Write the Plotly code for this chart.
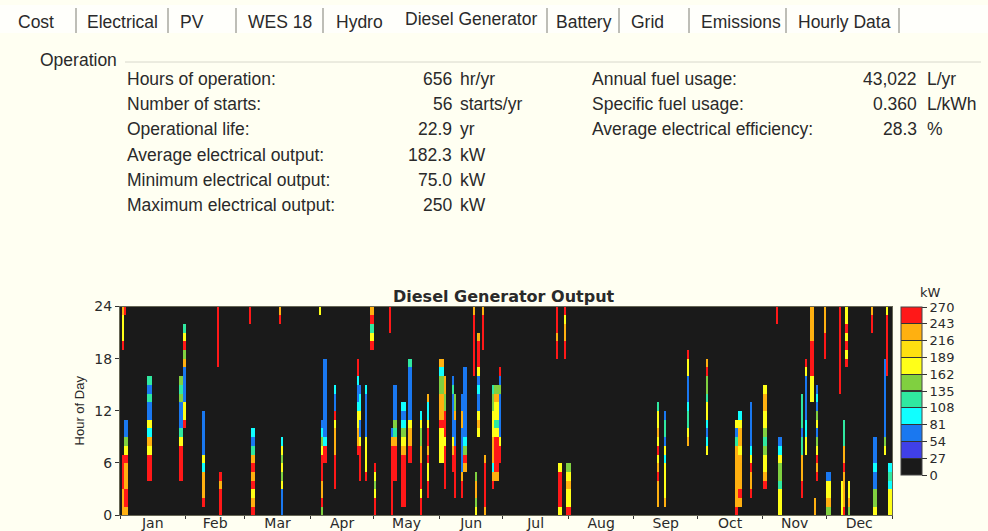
import numpy as np
import plotly.graph_objects as go

WIDTH, HEIGHT = 988, 531
BG = "#FFFFF2"
DARK = "#1A1A1A"
TEXT = "#2A2A2A"
FONT = "Liberation Sans"
AXIS_FONT = "DejaVu Sans"

# output level codes, kW
KW = {"B": 67, "C": 95, "M": 120, "G": 150, "Y": 175, "D": 200, "O": 230, "R": 250}

# runs: first day of year, number of days, first hour, output per hour
runs_jan = [
    (1, 1, 19, "RYYYO"), (2, 1, 23, "R"), (1, 1, 0, "OOORRRR"),
    (2, 2, 0, "ORROOORYGBB"), (13, 2, 4, "RRRYOCYBBMBM"),
    (28, 2, 4, "RRRRYMBBBGMG"), (30, 1, 10, "RYYBBBBOGRYM"),
]
runs_feb = [
    (39, 1, 1, "ROOOCYBBBBB"), (46, 1, 17, "RRRRRRR"), (47, 1, 0, "RRROR"),
]
runs_mar = [
    (61, 1, 22, "RR"), (62, 2, 0, "ROYROROMBC"), (75, 1, 22, "RO"),
    (76, 1, 0, "BBBYGYGYC"),
]
runs_apr = [
    (94, 1, 23, "Y"), (95, 1, 0, "GROORRRYGCB"), (96, 2, 6, "RRCBBBBBBBBB"),
    (101, 1, 3, "RRRROOOYRBBC"), (112, 1, 7, "ROOYYCBBCRR"),
    (113, 1, 4, "RRRRYBBYCCB"), (116, 1, 4, "RYYYYBBBBBC"),
    (118, 2, 19, "RYMRO"),
]
runs_may = [
    (120, 1, 0, "RRYGYR"), (127, 1, 21, "RRR"), (128, 1, 0, "RRRRRRRROB"),
    (129, 2, 4, "RRRROMGBBBB"), (133, 2, 1, "RRRRRROYGCBC"),
    (136, 2, 6, "RROOYBBBBBBM"), (142, 1, 0, "RRYRRROOGGYC"),
    (145, 1, 2, "RRYYRORRYCCO"),
]
runs_jun = [
    (151, 2, 6, "YYYYROOOGGCO"), (153, 1, 3, "RRRRRYRRRGGOO"),
    (157, 1, 5, "RROYBBBBBMB"), (158, 1, 2, "RRRRRRBBBOGG"),
    (161, 1, 2, "RROBBBBBOOBB"), (162, 2, 5, "ORGCBBBBBBBB"),
    (167, 1, 16, "RRRRRRRO"), (168, 1, 0, "YGOOG"),
    (169, 1, 9, "YOYBBCBYRRRO"), (171, 1, 19, "RRRRO"),
    (172, 1, 0, "ORRRRRO"), (176, 1, 3, "ROCOOOYYYGGM"),
    (177, 2, 4, "ORRRRYMYYOG"), (179, 1, 6, "RRYBBBBBGBR"),
]
runs_jul = [
    (206, 1, 18, "RRORRR"), (207, 2, 0, "YRRRRY"), (210, 1, 18, "RROOYR"),
    (211, 2, 0, "RYYOYG"),
]
runs_sep = [
    (254, 1, 1, "OOOROYRYOYYM"), (257, 1, 1, "OYYYYCYBMMB"),
    (268, 1, 8, "OYMMCBBBYYR"),
]
runs_oct = [
    (277, 1, 7, "YCBCYYMGGRO"), (291, 1, 0, "ROOOOOOOMBY"),
    (292, 2, 1, "OROOOOYOOYC"), (298, 1, 2, "ROORYCBBBBB"),
    (304, 2, 3, "ROYYGMGYYOOY"),
]
runs_nov = [
    (310, 1, 22, "RR"), (311, 2, 0, "YYYMGGYCB"), (322, 1, 2, "RROOOMMBMMMM"),
    (324, 1, 7, "YYCCBBBBBYR"), (326, 2, 13, "YYYRRRROOOO"), (328, 1, 0, "OO"),
    (329, 1, 4, "RORYGBYGBCB"), (333, 1, 18, "RRROOO"),
]
runs_dec = [
    (334, 2, 0, "GOYYB"), (340, 1, 14, "RRRRRRRRRR"), (341, 1, 0, "YYYY"),
    (342, 1, 0, "ROOOOROOMMM"), (343, 1, 17, "RYRYRYY"), (344, 1, 0, "GOYY"),
    (355, 1, 21, "RRO"), (356, 2, 0, "YGGBBCBBB"), (361, 1, 7, "YGBBBBBBBBB"),
    (362, 1, 16, "RRRRRRRY"), (363, 2, 0, "YYYCMC"),
]

months = ["Jan", "Feb", "Mar", "Apr", "May", "Jun", "Jul", "Aug", "Sep", "Oct", "Nov", "Dec"]
month_starts = [0, 31, 59, 90, 120, 151, 181, 212, 243, 273, 304, 334, 365]
hour_ticks = [0, 6, 12, 18, 24]
kw_ticks = [0, 27, 54, 81, 108, 135, 162, 189, 216, 243, 270]
band_colors = ["#1A1A1A", "#4040E8", "#1A78F0", "#10FFFF", "#30E8A0",
               "#80D040", "#FFFF18", "#FFE010", "#FFB010", "#FF1818"]

tabs = ["Cost", "Electrical", "PV", "WES 18", "Hydro", "Diesel Generator",
        "Battery", "Grid", "Emissions", "Hourly Data"]
tab_x = [18, 87, 180, 248, 336, 405, 556, 631, 701, 798]
tab_seps = [76, 168, 236, 323, 547, 619, 689, 786, 899]

left_labels = ["Hours of operation:", "Number of starts:", "Operational life:",
               "Average electrical output:", "Minimum electrical output:",
               "Maximum electrical output:"]
left_values = ["656", "56", "22.9", "182.3", "75.0", "250"]
left_units = ["hr/yr", "starts/yr", "yr", "kW", "kW", "kW"]
right_labels = ["Annual fuel usage:", "Specific fuel usage:", "Average electrical efficiency:"]
right_values = ["43,022", "0.360", "28.3"]
right_units = ["L/yr", "L/kWh", "%"]
row_y = [79, 104, 129, 155, 180, 205]

z = np.zeros((24, 365))
all_runs = (runs_jan + runs_feb + runs_mar + runs_apr + runs_may + runs_jun
            + runs_jul + runs_sep + runs_oct + runs_nov + runs_dec)
for day, n_days, hour, levels in all_runs:
    for i, code in enumerate(levels):
        z[hour + i, day:day + n_days] = KW[code]

# flat bands, a thin dark edge between them shows up as the lines in the colour bar
EDGE = 0.004
colorscale = [[0, band_colors[0]]]
for i, c in enumerate(band_colors):
    low, high = i / 10, (i + 1) / 10
    if i > 0:
        colorscale += [[low, "#333333"], [low + EDGE, "#333333"], [low + EDGE, c]]
    if i < 9:
        colorscale += [[high - EDGE, c], [high - EDGE, "#333333"]]
    else:
        colorscale.append([1, c])


def px(x):
    return x / WIDTH


def py(y):
    return 1 - y / HEIGHT


fig = go.Figure()
fig.add_trace(
    go.Heatmap(
        z=z,
        x0=0.5,
        dx=1,
        y0=0.5,
        dy=1,
        zmin=0,
        zmax=270,
        colorscale=colorscale,
        colorbar=dict(
            x=px(901),
            xanchor="left",
            xpad=0,
            y=py(475),
            yanchor="bottom",
            ypad=0,
            thickness=21,
            thicknessmode="pixels",
            len=168,
            lenmode="pixels",
            tickvals=kw_ticks,
            ticks="outside",
            ticklen=5,
            tickcolor="#333333",
            tickwidth=1,
            tickfont=dict(family=AXIS_FONT, size=13, color=TEXT),
            outlinecolor="#444444",
            outlinewidth=1,
        ),
    )
)


def add_text(text, x, y, size=17.5, anchor="left", bold=False, family=FONT):
    label = f"<b>{text}</b>" if bold else text
    fig.add_annotation(
        text=label, x=px(x), y=py(y), xref="paper", yref="paper",
        xanchor=anchor, yanchor="middle", showarrow=False, borderpad=0, borderwidth=0,
        font=dict(family=family, size=size, color=TEXT),
    )


fig.add_shape(type="rect", x0=0, x1=1, y0=py(33), y1=py(5), xref="paper", yref="paper",
              fillcolor="#FFFFFB", line_width=0, layer="below")
for name, x in zip(tabs, tab_x):
    add_text(name, x, 19 if name == "Diesel Generator" else 22)
for x in tab_seps:
    fig.add_shape(type="line", x0=px(x), x1=px(x), y0=py(8), y1=py(33), xref="paper", yref="paper",
                  line=dict(color="#A8A8A0", width=1.5))

add_text("Operation", 40, 60)
fig.add_shape(type="line", x0=px(125), x1=px(981), y0=py(62), y1=py(62), xref="paper", yref="paper",
              line=dict(color="#D8D8CC", width=1))

for label, value, unit, y in zip(left_labels, left_values, left_units, row_y):
    add_text(label, 127, y)
    add_text(value, 452, y, anchor="right")
    add_text(unit, 460, y)
for label, value, unit, y in zip(right_labels, right_values, right_units, row_y):
    add_text(label, 592, y)
    add_text(value, 917, y, anchor="right")
    add_text(unit, 927, y)

add_text("Diesel Generator Output", 504, 296, size=16, anchor="center", bold=True, family=AXIS_FONT)
add_text("kW", 930, 292, size=13, anchor="center", family=AXIS_FONT)

month_mids = [(a + b) / 2 for a, b in zip(month_starts[:-1], month_starts[1:])]

fig.update_layout(
    width=WIDTH,
    height=HEIGHT,
    paper_bgcolor=BG,
    plot_bgcolor=DARK,
    margin=dict(l=0, r=0, t=0, b=0, autoexpand=False),
    showlegend=False,
    xaxis=dict(
        domain=[px(120), px(892)],
        range=[0, 365],
        tickmode="array",
        tickvals=month_mids,
        ticktext=months,
        ticks="",
        ticklen=0,
        ticklabelstandoff=-5,
        minor=dict(tickmode="array", tickvals=month_starts, ticks="outside", ticklen=3,
                   tickcolor="#333333"),
        tickfont=dict(family=AXIS_FONT, size=14, color=TEXT),
        showgrid=False,
        zeroline=False,
        showline=True,
        linecolor="#666655",
        mirror=True,
    ),
    yaxis=dict(
        domain=[py(515), py(306.5)],
        range=[0, 24],
        tickmode="array",
        tickvals=hour_ticks,
        ticks="outside",
        ticklen=4,
        tickcolor="#333333",
        tickfont=dict(family=AXIS_FONT, size=14, color=TEXT),
        showgrid=False,
        zeroline=False,
        showline=True,
        linecolor="#666655",
        mirror=True,
        title=dict(text="Hour of Day", font=dict(family=FONT, size=13, color=TEXT), standoff=6),
    ),
)

fig.write_html("out.html", config={"displayModeBar": False},
               post_script="document.body.style.margin = '0';")
